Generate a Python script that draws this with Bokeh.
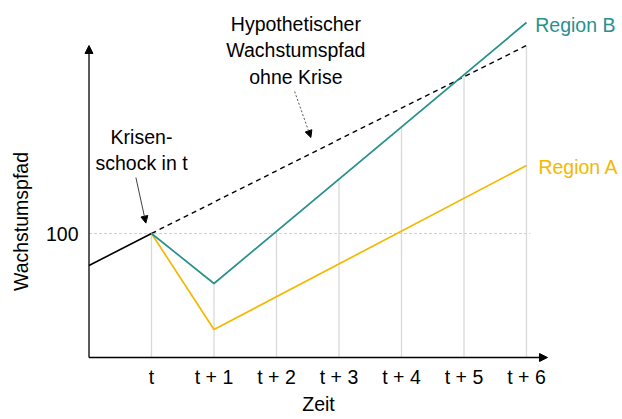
import numpy as np
from bokeh.plotting import figure
from bokeh.models import Range1d, Arrow, NormalHead, Label
from bokeh.core.properties import value
from bokeh.embed import file_html
from bokeh.resources import INLINE

# ---- data ----
periods = [0, 1, 2, 3, 4, 5, 6]
period_labels = ["t", "t + 1", "t + 2", "t + 3", "t + 4", "t + 5", "t + 6"]
y_ticks = [100]
y_tick_labels = ["100"]

pre_x = [-1, 0]
pre_y = [92, 100]
hypo_x = [0, 6]
hypo_y = [100, 147]
regB_x = [0, 1, 6]
regB_y = [100, 87.5, 152.75]
regA_x = [0, 1, 6]
regA_y = [100, 76, 117]

# ---- styles ----
FS = "19.5px"
FONT = value("Liberation Sans")
TEAL = "#27918E"
GOLD = "#F5B800"
GRID = "#D9D9D9"

px_x = 62.5   # pixels per period
px_y = 4.0    # pixels per index point
W, H = 622, 419
t_px, v100_px = 151, 233   # where (t, 100) sits on the canvas
x_range = Range1d(-t_px / px_x, (W - t_px) / px_x)
y_range = Range1d(100 - (H - v100_px) / px_y, 100 + v100_px / px_y)

p = figure(width=W, height=H, x_range=x_range, y_range=y_range,
           x_axis_location=None, y_axis_location=None,
           output_backend="svg", toolbar_location=None)
p.min_border = 0
p.outline_line_color = None
p.xgrid.visible = False
p.ygrid.visible = False
p.background_fill_color = "white"
p.border_fill_color = "white"

axis_x = -1
axis_y = 69
x_tip = 6.336
y_tip = 147

# vertical grid lines up to lower of teal / hypothetical
tops = np.minimum(np.interp(periods, regB_x, regB_y), np.interp(periods, hypo_x, hypo_y))
p.segment(x0=periods, y0=[axis_y] * len(periods), x1=periods, y1=tops,
          line_color=GRID, line_width=1.3)
# 100 reference line
p.segment(x0=[axis_x], y0=y_ticks, x1=[6.06], y1=y_ticks,
          line_color="#CFCFCF", line_width=1.2, line_dash="3 2")

# series
p.line(pre_x, pre_y, line_color="black", line_width=1.6)
p.line(hypo_x, hypo_y, line_color="black", line_width=1.4, line_dash="5 4")
p.line(regA_x, regA_y, line_color=GOLD, line_width=1.7)
p.line(regB_x, regB_y, line_color=TEAL, line_width=1.7)

# axes with arrow heads
p.add_layout(Arrow(x_start=axis_x, y_start=axis_y, x_end=axis_x, y_end=y_tip,
                   line_color="black", line_width=1.3,
                   end=NormalHead(size=8, fill_color="black", line_color="black")))
p.add_layout(Arrow(x_start=axis_x, y_start=axis_y, x_end=x_tip, y_end=axis_y,
                   line_color="black", line_width=1.3,
                   end=NormalHead(size=8, fill_color="black", line_color="black")))

# tick labels
p.text(x=periods, y=[axis_y - 19 / px_y] * len(periods), text=period_labels,
       text_font=FONT, text_font_size=FS, text_align="center",
       text_baseline="middle", text_color="black")
p.text(x=[axis_x - 10.5 / px_x] * len(y_ticks), y=y_ticks, text=y_tick_labels,
       text_font=FONT, text_font_size=FS, text_align="right",
       text_baseline="middle", text_color="black")

# annotation arrows
p.add_layout(Arrow(x_start=-0.25, y_start=114.0, x_end=-0.09, y_end=102.6,
                   line_color="#404040", line_width=1.0,
                   end=NormalHead(size=7, fill_color="black", line_color="black")))
p.add_layout(Arrow(x_start=2.29, y_start=135.5, x_end=2.55, y_end=124.0,
                   line_color="#555555", line_width=1.0, line_dash="2 2",
                   end=NormalHead(size=7, fill_color="black", line_color="black")))

# texts
def lab(x, y, text, color="black", align="center", baseline="middle", angle=0, size=FS):
    p.add_layout(Label(x=x, y=y, text=text, text_color=color, text_align=align,
                       text_baseline=baseline, angle=angle, text_font="Liberation Sans",
                       text_font_size=size, text_line_height=1.2))

lab(2.31, 145.8, "Hypothetischer\nWachstumspfad\nohne Krise")
lab(-0.16, 120.8, "Krisen-\nschock in t")
lab(6.14, 152.1, "Region B", color=TEAL, align="left")
lab(6.19, 116.75, "Region A", color=GOLD, align="left")
lab(2.672, 57.4, "Zeit")
lab(-2.096, 103.0, "Wachstumspfad", angle=np.pi / 2)

open("out.html", "w").write(file_html(p, INLINE))
